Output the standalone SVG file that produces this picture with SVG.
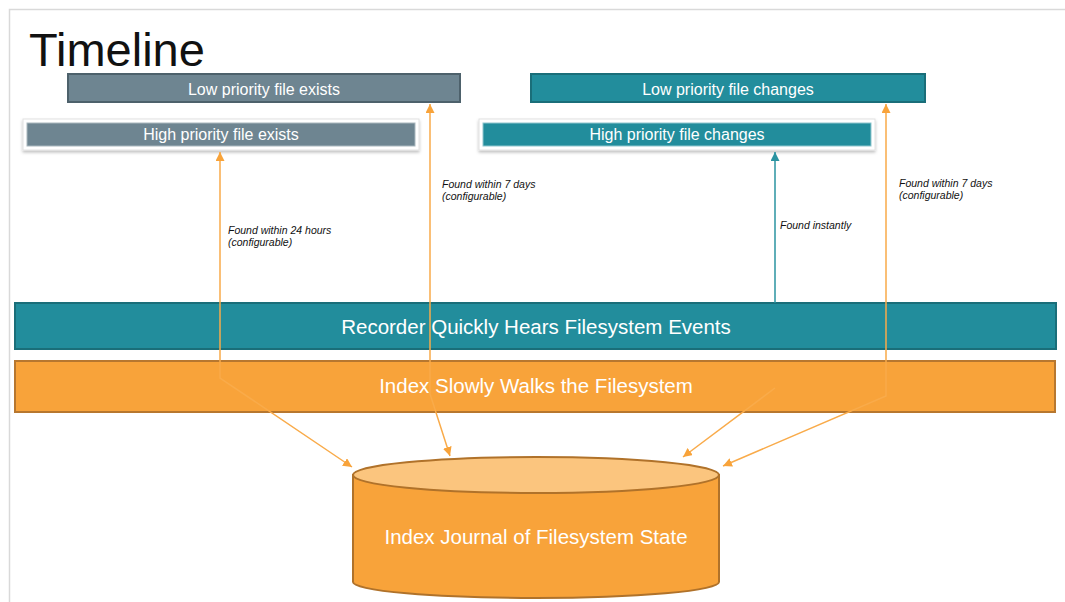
<svg xmlns="http://www.w3.org/2000/svg" width="1065" height="602" viewBox="0 0 1065 602">
<style>
.frame{fill:#fff;stroke:#d9d9d9;stroke-width:1.5}
.title{font-family:"Liberation Sans",Arial,sans-serif;font-size:47px;fill:#111}
.lbl{font-family:"Liberation Sans",Arial,sans-serif;font-size:16px;fill:#fff;text-anchor:middle}
.big{font-family:"Liberation Sans",Arial,sans-serif;font-size:20.5px;fill:#fff;text-anchor:middle}
.note{font-family:"Liberation Sans",Arial,sans-serif;font-size:10.5px;font-style:italic;fill:#111}
.gray{fill:#6e8591;stroke:#4d616b;stroke-width:2}
.grayin{fill:#6e8591;stroke:#a9b7be;stroke-width:1}
.teal{fill:#228d9c;stroke:#1a6e79;stroke-width:2}
.tealin{fill:#228d9c;stroke:#8fc6ce;stroke-width:1}
.orange{fill:#f8a33a;stroke:#b7772f;stroke-width:2}
.ctop{fill:#fbc57e;stroke:#b0722a;stroke-width:2}
.cbody{fill:#f8a33a;stroke:#b0722a;stroke-width:2}
.card{fill:#fff;stroke:#e2e2e2;stroke-width:1;filter:url(#sh)}
.co{fill:none;stroke:#f9ab4a;stroke-width:1.5}
.ct{fill:none;stroke:#2a93a1;stroke-width:1.5}
</style>
<defs>
<filter id="sh" x="-5%" y="-30%" width="110%" height="170%">
<feDropShadow dx="0" dy="2" stdDeviation="1.5" flood-color="#000" flood-opacity="0.25"/>
</filter>
<marker id="ao" viewBox="0 0 10 10" refX="10" refY="5" markerWidth="9" markerHeight="9" markerUnits="userSpaceOnUse" orient="auto-start-reverse">
<path d="M0,0 L10,5 L0,10 z" fill="#f8a33a"/>
</marker>
<marker id="at" viewBox="0 0 10 10" refX="10" refY="5" markerWidth="9" markerHeight="9" markerUnits="userSpaceOnUse" orient="auto-start-reverse">
<path d="M0,0 L10,5 L0,10 z" fill="#2a93a1"/>
</marker>
</defs>
<rect class="frame" x="9.5" y="9.5" width="1070" height="600"/>
<text class="title" x="29" y="66">Timeline</text>

<g id="low-exists">
<rect class="gray" x="68" y="74" width="392" height="28"/>
<text class="lbl" x="264" y="95">Low priority file exists</text>
</g>
<g id="high-exists">
<rect class="card" x="23" y="119" width="396" height="31"/>
<rect class="grayin" x="27" y="123" width="388" height="23"/>
<text class="lbl" x="221" y="140">High priority file exists</text>
</g>
<g id="low-changes">
<rect class="teal" x="531" y="74" width="394" height="28"/>
<text class="lbl" x="728" y="95">Low priority file changes</text>
</g>
<g id="high-changes">
<rect class="card" x="479" y="119" width="396" height="31"/>
<rect class="tealin" x="483" y="123" width="388" height="23"/>
<text class="lbl" x="677" y="140">High priority file changes</text>
</g>
<g id="recorder">
<rect class="teal" x="15" y="303" width="1041" height="46"/>
<text class="big" x="536" y="334">Recorder Quickly Hears Filesystem Events</text>
</g>
<g id="index">
<rect class="orange" x="15" y="361" width="1040" height="51"/>
<text class="big" x="536" y="393">Index Slowly Walks the Filesystem</text>
</g>
<g id="journal">
<path class="cbody" d="M353,475 L353,582 A183,16 0 0 0 719,582 L719,475 Z"/>
<ellipse class="ctop" cx="536" cy="475" rx="183" ry="18"/>
<text class="big" x="536" y="544">Index Journal of Filesystem State</text>
</g>

<g id="connectors">
<path class="co" d="M352,467 L220,378 L220,152" marker-start="url(#ao)" marker-end="url(#ao)"/>
<path class="co" d="M450,456 L430,394 L430,104" marker-start="url(#ao)" marker-end="url(#ao)"/>
<path class="ct" d="M775,303 L775,152" marker-end="url(#at)"/>
<path class="co" d="M775,388 L683,457" marker-end="url(#ao)"/>
<path class="co" d="M723,466 L886,396 L886,104" marker-start="url(#ao)" marker-end="url(#ao)"/>
</g>

<g id="labels">
<text class="note" x="228" y="234">Found within 24 hours</text>
<text class="note" x="228" y="246">(configurable)</text>
<text class="note" x="442" y="188">Found within 7 days</text>
<text class="note" x="442" y="200">(configurable)</text>
<text class="note" x="780" y="229">Found instantly</text>
<text class="note" x="899" y="187">Found within 7 days</text>
<text class="note" x="899" y="199">(configurable)</text>
</g>
</svg>
